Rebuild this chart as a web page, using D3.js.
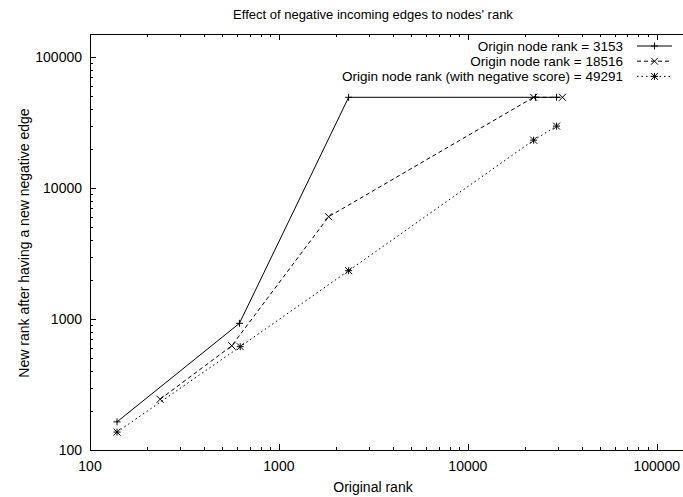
<!DOCTYPE html>
<html>
<head>
<meta charset="utf-8">
<script src="https://cdn.jsdelivr.net/npm/d3@7"></script>
<style>
  html, body { margin: 0; padding: 0; background: #fff; }
  svg { display: block; }
  text { font-family: "Liberation Sans", Arial, Helvetica, sans-serif; fill: #000; }
</style>
</head>
<body>
<svg id="chart" width="683" height="497"></svg>
<script>
// Series data: original rank vs. new rank after a new negative incoming edge
const seriesNames = [
  "Origin node rank = 3153",
  "Origin node rank = 18516",
  "Origin node rank (with negative score) = 49291"
];
const origRank1 = [139, 618, 2339, 22800, 29500];
const newRank1  = [164, 927, 49291, 49291, 49291];
const origRank2 = [235, 563, 1833, 22300, 31700];
const newRank2  = [244, 625, 6040, 49291, 49291];
const origRank3 = [139, 624, 2339, 22300, 29500];
const newRank3  = [137, 615, 2339, 23200, 29700];
const majorTicks = [100, 1000, 10000, 100000];
const tickLabels = ["100", "1000", "10000", "100000"];

(function () {
  const svg = d3.select("#chart");
  const plotLeft = 90, plotRight = 690, plotTop = 34, plotBottom = 450;
  const fontSize = 14;

  const x = d3.scaleLog().domain([100, 150000]).range([plotLeft, plotRight]);
  const y = d3.scaleLog().domain([100, 150000]).range([plotBottom, plotTop]);

  // minor ticks: 2..9 times each decade, inside domain
  function minorTicks(dom) {
    const out = [];
    for (let d = 100; d <= 100000; d *= 10) {
      for (let k = 2; k <= 9; k++) {
        const v = d * k;
        if (v > dom[0] && v < dom[1]) out.push(v);
      }
    }
    return out;
  }
  const xMinor = minorTicks(x.domain());
  const yMinor = minorTicks(y.domain());

  const g = svg.append("g");

  // frame
  g.append("rect")
    .attr("x", plotLeft + 0.5).attr("y", plotTop + 0.5)
    .attr("width", plotRight - plotLeft).attr("height", plotBottom - plotTop)
    .attr("fill", "none").attr("stroke", "#000").attr("stroke-width", 1);

  const majorLen = 6, minorLen = 3;
  const tickG = g.append("g").attr("stroke", "#000").attr("stroke-width", 1);

  // x ticks (bottom, mirrored on top)
  majorTicks.forEach(v => {
    const px = Math.round(x(v)) + 0.5;
    tickG.append("line").attr("x1", px).attr("x2", px).attr("y1", plotBottom).attr("y2", plotBottom - majorLen);
    tickG.append("line").attr("x1", px).attr("x2", px).attr("y1", plotTop).attr("y2", plotTop + majorLen);
  });
  xMinor.forEach(v => {
    const px = Math.round(x(v)) + 0.5;
    tickG.append("line").attr("x1", px).attr("x2", px).attr("y1", plotBottom).attr("y2", plotBottom - minorLen);
    tickG.append("line").attr("x1", px).attr("x2", px).attr("y1", plotTop).attr("y2", plotTop + minorLen);
  });
  // y ticks (left, mirrored on right)
  majorTicks.forEach(v => {
    const py = Math.round(y(v)) + 0.5;
    tickG.append("line").attr("y1", py).attr("y2", py).attr("x1", plotLeft).attr("x2", plotLeft + majorLen);
    tickG.append("line").attr("y1", py).attr("y2", py).attr("x1", plotRight).attr("x2", plotRight - majorLen);
  });
  yMinor.forEach(v => {
    const py = Math.round(y(v)) + 0.5;
    tickG.append("line").attr("y1", py).attr("y2", py).attr("x1", plotLeft).attr("x2", plotLeft + minorLen);
    tickG.append("line").attr("y1", py).attr("y2", py).attr("x1", plotRight).attr("x2", plotRight - minorLen);
  });

  // tick labels
  majorTicks.forEach((v, i) => {
    g.append("text").attr("x", x(v)).attr("y", plotBottom + 21)
      .attr("text-anchor", "middle").attr("font-size", fontSize).text(tickLabels[i]);
    g.append("text").attr("x", plotLeft - 8).attr("y", y(v) + 5)
      .attr("text-anchor", "end").attr("font-size", fontSize).text(tickLabels[i]);
  });

  // titles
  svg.append("text").attr("x", 373).attr("y", 19).attr("text-anchor", "middle")
    .attr("font-size", 13).text("Effect of negative incoming edges to nodes' rank");
  svg.append("text").attr("x", 373).attr("y", 492).attr("text-anchor", "middle")
    .attr("font-size", fontSize).text("Original rank");
  svg.append("text").attr("transform", "translate(29,243) rotate(-90)")
    .attr("text-anchor", "middle").attr("font-size", fontSize)
    .text("New rank after having a new negative edge");

  // marker shapes
  function plus(sel, s) {
    sel.append("path").attr("d", `M${-s},0H${s}M0,${-s}V${s}`);
  }
  function cross(sel, s) {
    sel.append("path").attr("d", `M${-s},${-s}L${s},${s}M${-s},${s}L${s},${-s}`);
  }
  function star(sel, s) { plus(sel, s); cross(sel, s); }

  const series = [
    { xs: origRank1, ys: newRank1, dash: null, marker: plus },
    { xs: origRank2, ys: newRank2, dash: "4,3", marker: cross },
    { xs: origRank3, ys: newRank3, dash: "1.5,3", marker: star }
  ];

  const line = d3.line().x(d => x(d[0])).y(d => y(d[1]));

  series.forEach((s, i) => {
    const pts = s.xs.map((v, j) => [v, s.ys[j]]);
    g.append("path").datum(pts).attr("d", line)
      .attr("fill", "none").attr("stroke", "#000").attr("stroke-width", 1)
      .attr("stroke-dasharray", s.dash);
    pts.forEach(p => {
      const m = g.append("g").attr("transform", `translate(${x(p[0])},${y(p[1])})`)
        .attr("stroke", "#000").attr("stroke-width", 1).attr("fill", "none");
      s.marker(m, 3.5);
    });

    // legend entry
    const ly = 46 + i * 15.2;
    svg.append("text").attr("x", 623).attr("y", ly + 5).attr("text-anchor", "end")
      .attr("font-size", 13.5).text(seriesNames[i]);
    svg.append("line").attr("x1", 637).attr("x2", 672).attr("y1", ly).attr("y2", ly)
      .attr("stroke", "#000").attr("stroke-width", 1).attr("stroke-dasharray", s.dash);
    const lm = svg.append("g").attr("transform", `translate(654.5,${ly})`)
      .attr("stroke", "#000").attr("stroke-width", 1).attr("fill", "none");
    s.marker(lm, 3.5);
  });
})();
</script>
</body>
</html>
